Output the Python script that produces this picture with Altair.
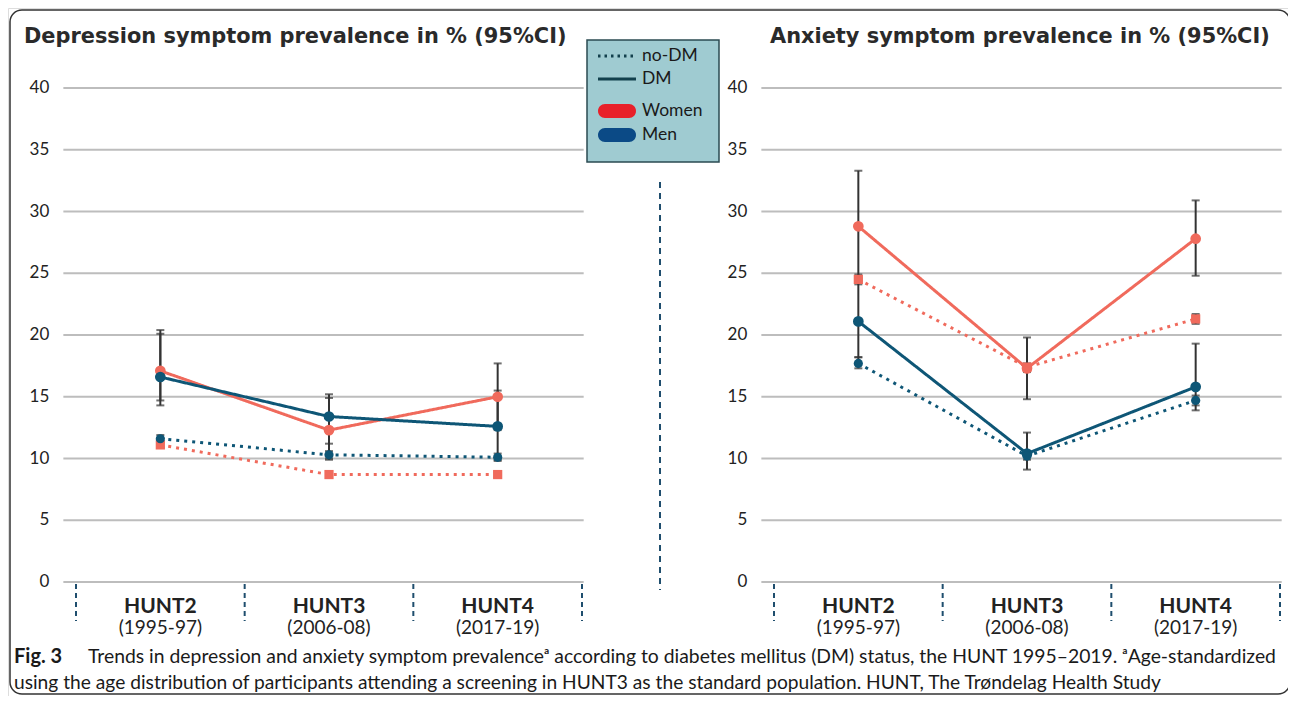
import altair as alt
import pandas as pd

# ---------------- data ----------------
periods = ["HUNT2", "HUNT3", "HUNT4"]
period_years = ["(1995-97)", "(2006-08)", "(2017-19)"]
period_pos = [0.5, 1.5, 2.5]
band_edges = [0, 1, 2, 3]
y_ticks = [0, 5, 10, 15, 20, 25, 30, 35, 40]

# Depression
dep_women_dm = [17.1, 12.3, 15.0]
dep_women_dm_lo = [14.7, 9.9, 12.3]
dep_women_dm_hi = [20.4, 14.9, 17.7]
dep_men_dm = [16.6, 13.4, 12.6]
dep_men_dm_lo = [14.3, 11.2, 9.9]
dep_men_dm_hi = [20.1, 15.2, 15.5]
dep_women_nodm = [11.1, 8.7, 8.7]
dep_women_nodm_lo = [10.9, 8.5, 8.5]
dep_women_nodm_hi = [11.4, 8.9, 8.9]
dep_men_nodm = [11.6, 10.3, 10.1]
dep_men_nodm_lo = [11.3, 10.0, 9.8]
dep_men_nodm_hi = [11.9, 10.6, 10.4]

# Anxiety
anx_women_dm = [28.8, 17.3, 27.8]
anx_women_dm_lo = [24.6, 14.8, 24.8]
anx_women_dm_hi = [33.3, 19.8, 30.9]
anx_men_dm = [21.1, 10.4, 15.8]
anx_men_dm_lo = [18.2, 9.1, 13.9]
anx_men_dm_hi = [24.4, 12.1, 19.3]
anx_women_nodm = [24.5, 17.4, 21.3]
anx_women_nodm_lo = [24.1, 17.0, 20.9]
anx_women_nodm_hi = [24.9, 17.7, 21.7]
anx_men_nodm = [17.7, 10.2, 14.7]
anx_men_nodm_lo = [17.3, 9.9, 14.3]
anx_men_nodm_hi = [18.2, 10.6, 15.1]

dep_title = "Depression symptom prevalence in % (95%CI)"
anx_title = "Anxiety symptom prevalence in % (95%CI)"
caption_bold = "Fig. 3"
caption_1 = ("Trends in depression and anxiety symptom prevalence\u1d43 according to diabetes mellitus (DM) "
             "status, the HUNT 1995\u20132019. \u1d43Age-standardized")
caption_2 = ("using the age distribution of participants attending a screening in HUNT3 as the standard "
             "population. HUNT, The Tr\u00f8ndelag Health Study")

WOMEN = "#f06a5c"
MEN = "#0e5676"
DARK = "#1f4e6e"
FONT = "Lato"


def build(series):
    rows = []
    for sex, status, vals, los, his in series:
        for p, pos, v, lo, hi in zip(periods, period_pos, vals, los, his):
            rows.append(dict(period=p, pos=pos, sex=sex, status=status,
                             series=sex + " " + status, value=v, lo=lo, hi=hi))
    return pd.DataFrame(rows)


dep_df = build([
    ("Women", "DM", dep_women_dm, dep_women_dm_lo, dep_women_dm_hi),
    ("Men", "DM", dep_men_dm, dep_men_dm_lo, dep_men_dm_hi),
    ("Women", "no-DM", dep_women_nodm, dep_women_nodm_lo, dep_women_nodm_hi),
    ("Men", "no-DM", dep_men_nodm, dep_men_nodm_lo, dep_men_nodm_hi),
])
anx_df = build([
    ("Women", "DM", anx_women_dm, anx_women_dm_lo, anx_women_dm_hi),
    ("Men", "DM", anx_men_dm, anx_men_dm_lo, anx_men_dm_hi),
    ("Women", "no-DM", anx_women_nodm, anx_women_nodm_lo, anx_women_nodm_hi),
    ("Men", "no-DM", anx_men_nodm, anx_men_nodm_lo, anx_men_nodm_hi),
])

ticks_df = pd.DataFrame({"tick": y_ticks})
edges_df = pd.DataFrame({"edge": band_edges})
cats_df = pd.DataFrame({"pos": period_pos, "period": periods, "years": period_years})
one = pd.DataFrame({"k": [0]})

ys = alt.Scale(domain=[0, 40], range=[574, 80], nice=False, zero=False)
color_scale = alt.Scale(domain=["Women", "Men"], range=[WOMEN, MEN])
dash_scale = alt.Scale(domain=["DM", "no-DM"], range=[[1, 0], [3, 5]])


def panel(df, rng):
    xs = alt.Scale(domain=[0, 3], range=rng, nice=False, zero=False)
    grid = alt.Chart(ticks_df).mark_rule(color="#bdbdbd", strokeWidth=2).encode(
        x=alt.XDatum(-0.075, type="quantitative", scale=xs, axis=None),
        x2=alt.X2Datum(3.01),
        y=alt.Y("tick:Q", scale=ys, axis=None),
    )
    ylab = alt.Chart(ticks_df).mark_text(align="right", baseline="middle", dx=-14,
                                         fontSize=17, font=FONT, color="#222222").encode(
        x=alt.XDatum(-0.075, type="quantitative", scale=xs, axis=None),
        y=alt.Y("tick:Q", scale=ys, axis=None),
        text=alt.Text("tick:Q"),
    )
    seps = alt.Chart(edges_df).mark_rule(color=DARK, strokeWidth=2, strokeDash=[5, 4]).encode(
        x=alt.X("edge:Q", scale=xs, axis=None),
        y=alt.value(576), y2=alt.value(613),
    )
    cat1 = alt.Chart(cats_df).mark_text(fontSize=21, fontWeight="bold", font=FONT,
                                        color="#222222", baseline="middle").encode(
        x=alt.X("pos:Q", scale=xs, axis=None), y=alt.value(599), text="period:N")
    cat2 = alt.Chart(cats_df).mark_text(fontSize=19, font=FONT,
                                        color="#222222", baseline="middle").encode(
        x=alt.X("pos:Q", scale=xs, axis=None), y=alt.value(620), text="years:N")
    base = alt.Chart(df)
    err = base.mark_rule(color="#333333", strokeWidth=2).encode(
        x=alt.X("pos:Q", scale=xs, axis=None),
        y=alt.Y("lo:Q", scale=ys, axis=None), y2="hi:Q")
    cap_lo = base.mark_tick(orient="horizontal", color="#333333", size=8, thickness=2).encode(
        x=alt.X("pos:Q", scale=xs, axis=None), y=alt.Y("lo:Q", scale=ys, axis=None))
    cap_hi = base.mark_tick(orient="horizontal", color="#333333", size=8, thickness=2).encode(
        x=alt.X("pos:Q", scale=xs, axis=None), y=alt.Y("hi:Q", scale=ys, axis=None))
    lines = base.mark_line(strokeWidth=3).encode(
        x=alt.X("pos:Q", scale=xs, axis=None),
        y=alt.Y("value:Q", scale=ys, axis=None),
        color=alt.Color("sex:N", scale=color_scale, legend=None),
        strokeDash=alt.StrokeDash("status:N", scale=dash_scale, legend=None),
        detail="series:N",
        order="pos:Q",
    )
    pts = base.mark_point(filled=True, opacity=1).encode(
        x=alt.X("pos:Q", scale=xs, axis=None),
        y=alt.Y("value:Q", scale=ys, axis=None),
        color=alt.Color("sex:N", scale=color_scale, legend=None),
        shape=alt.Shape("series:N", scale=alt.Scale(
            domain=["Women DM", "Men DM", "Women no-DM", "Men no-DM"],
            range=["circle", "circle", "square", "circle"]), legend=None),
        size=alt.Size("status:N", scale=alt.Scale(domain=["DM", "no-DM"], range=[115, 85]),
                      legend=None),
    )
    return alt.layer(grid, ylab, seps, cat1, cat2, err, cap_lo, cap_hi, lines, pts)


left = panel(dep_df, [68, 574])
right = panel(anx_df, [766, 1272])

# ---------------- decorations ----------------
def txt(x, y, s, **kw):
    opts = dict(align="left", baseline="middle", font=FONT, color="#1a1a1a")
    opts.update(kw)
    return alt.Chart(one).mark_text(text=s, **opts).encode(x=alt.value(x), y=alt.value(y))


border = alt.Chart(one).mark_rect(fill="white", fillOpacity=0, stroke="#333333",
                                  strokeWidth=1.5, cornerRadius=12).encode(
    x=alt.value(2), x2=alt.value(1282), y=alt.value(2), y2=alt.value(686))
divider = alt.Chart(one).mark_rule(color=DARK, strokeWidth=2, strokeDash=[6, 5]).encode(
    x=alt.value(652), y=alt.value(174), y2=alt.value(582))
leg_box = alt.Chart(one).mark_rect(fill="#9fcbd1", stroke="#2b4b52", strokeWidth=1.5).encode(
    x=alt.value(579), x2=alt.value(711), y=alt.value(32), y2=alt.value(154))
leg_dot = alt.Chart(one).mark_rule(color="#12404d", strokeWidth=3, strokeDash=[2.5, 4]).encode(
    x=alt.value(590), x2=alt.value(628), y=alt.value(48))
leg_solid = alt.Chart(one).mark_rule(color="#12404d", strokeWidth=3).encode(
    x=alt.value(590), x2=alt.value(628), y=alt.value(71))
leg_w = alt.Chart(one).mark_rect(fill="#e8202a", cornerRadius=7).encode(
    x=alt.value(590), x2=alt.value(628), y=alt.value(96), y2=alt.value(110))
leg_m = alt.Chart(one).mark_rect(fill="#0b4a86", cornerRadius=7).encode(
    x=alt.value(590), x2=alt.value(628), y=alt.value(120), y2=alt.value(134))

decor = [
    border, divider, leg_box, leg_dot, leg_solid, leg_w, leg_m,
    txt(634, 48, "no-DM", fontSize=17.5),
    txt(634, 71, "DM", fontSize=17.5),
    txt(634, 103, "Women", fontSize=17.5),
    txt(634, 127, "Men", fontSize=17.5),
    txt(16, 29, dep_title, fontSize=20.9, font="DejaVu Sans", fontWeight="bold", color="#2a2a2a"),
    txt(762, 29, anx_title, fontSize=20.9, font="DejaVu Sans", fontWeight="bold", color="#2a2a2a"),
    txt(6, 649, caption_bold, fontSize=20, fontWeight="bold"),
    txt(80, 649, caption_1, fontSize=19.35),
    txt(6, 675, caption_2, fontSize=19.2),
]

chart = alt.layer(left, right, *decor).resolve_scale(x="independent").properties(
    width=1280, height=688, padding=0,
    autosize=alt.AutoSizeParams(type="none"),
).configure_view(stroke=None).configure(background="white")

chart.save("out.html", embed_options={"renderer": "svg", "actions": False})
